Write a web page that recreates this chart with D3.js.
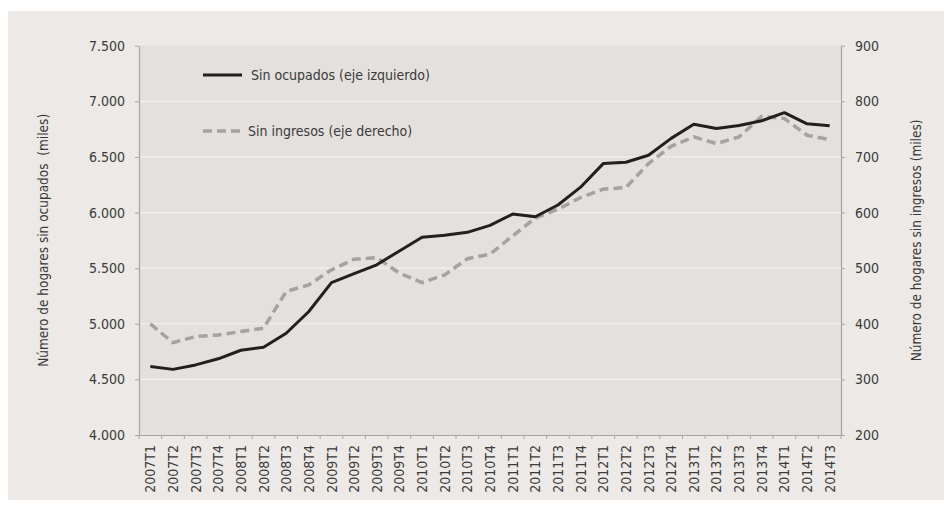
<!DOCTYPE html>
<html>
<head>
<meta charset="utf-8">
<script src="https://cdn.jsdelivr.net/npm/d3@7"></script>
<style>
  body { margin: 0; background: #fff; }
  svg text { font-family: "Liberation Sans Narrow", "DejaVu Sans Condensed", sans-serif; fill: #3a3a3a; }
</style>
</head>
<body>
<div id="vis"></div>
<script>
const FRAME_WIDTH = 944;
const FRAME_HEIGHT = 510;
const PLOT = {left: 139, right: 841, top: 45.7, bottom: 435};

// quarters (x categories)
const quarters = ["2007T1","2007T2","2007T3","2007T4","2008T1","2008T2","2008T3","2008T4",
  "2009T1","2009T2","2009T3","2009T4","2010T1","2010T2","2010T3","2010T4",
  "2011T1","2011T2","2011T3","2011T4","2012T1","2012T2","2012T3","2012T4",
  "2013T1","2013T2","2013T3","2013T4","2014T1","2014T2","2014T3"];

// hogares sin ocupados (miles) - left axis
const sinOcupados = [4615,4590,4630,4685,4762,4788,4915,5110,
  5370,5450,5530,5655,5778,5795,5822,5885,
  5986,5962,6068,6228,6440,6452,6515,6667,
  6793,6755,6783,6825,6898,6798,6780];

// hogares sin ingresos (miles) - right axis
const sinIngresos = [400,366,377,380,386,392,458,470,
  497,516,519,491,474,488,517,525,
  558,590,606,627,642,645,688,719,
  736,724,736,773,769,739,731];

const leftTicks = [4000,4500,5000,5500,6000,6500,7000,7500];
const rightTicks = [200,300,400,500,600,700,800,900];

const locale = d3.formatLocale({decimal: ",", thousands: ".", grouping: [3], currency: ["", ""]});
const fmt = locale.format(",");

const svg = d3.select("#vis")
  .append("svg")
    .attr("width", FRAME_WIDTH)
    .attr("height", FRAME_HEIGHT);

// outer panel
svg.append("rect")
  .attr("x", 8).attr("y", 11)
  .attr("width", FRAME_WIDTH - 8).attr("height", 489)
  .attr("fill", "#ede9e6");

// plot area
svg.append("rect")
  .attr("x", PLOT.left).attr("y", PLOT.top)
  .attr("width", PLOT.right - PLOT.left).attr("height", PLOT.bottom - PLOT.top)
  .attr("fill", "#e4e0dd");

const x = d3.scaleBand().domain(quarters).range([PLOT.left, PLOT.right]).padding(0);
const yL = d3.scaleLinear().domain([4000, 7500]).range([PLOT.bottom, PLOT.top]);
const yR = d3.scaleLinear().domain([200, 900]).range([PLOT.bottom, PLOT.top]);
const cx = d => x(d) + x.bandwidth() / 2;

// gridlines
svg.append("g").selectAll("line")
  .data(leftTicks.filter(t => t > 4000 && t < 7500))
  .join("line")
    .attr("x1", PLOT.left).attr("x2", PLOT.right)
    .attr("y1", d => yL(d)).attr("y2", d => yL(d))
    .attr("stroke", "#f4f1ee").attr("stroke-width", 1.2);

function styleAxis(g) {
  g.selectAll("path.domain").attr("stroke", "#a5a5a5").attr("stroke-width", 1.2);
  g.selectAll(".tick line").attr("stroke", "#a5a5a5");
  g.selectAll("text").attr("font-size", 14).attr("fill", "#3a3a3a");
}

// left axis
svg.append("g")
  .attr("transform", `translate(${PLOT.left},0)`)
  .call(d3.axisLeft(yL).tickValues(leftTicks).tickFormat(fmt).tickSize(4).tickPadding(10).tickSizeOuter(0))
  .call(styleAxis);

// right axis
svg.append("g")
  .attr("transform", `translate(${PLOT.right},0)`)
  .call(d3.axisRight(yR).tickValues(rightTicks).tickSize(4).tickPadding(10).tickSizeOuter(0))
  .call(styleAxis);

// bottom axis: labels at band centres, ticks at band edges
const xAxis = svg.append("g")
  .attr("transform", `translate(0,${PLOT.bottom})`)
  .call(d3.axisBottom(x).tickSize(0).tickSizeOuter(0))
  .call(styleAxis);
xAxis.selectAll("text")
  .attr("transform", "rotate(-90)")
  .attr("x", -10).attr("y", 0).attr("dy", "0.36em")
  .attr("text-anchor", "end");
xAxis.selectAll(".edge")
  .data(quarters.map(q => x(q)).concat([PLOT.right]))
  .join("line")
    .attr("class", "edge")
    .attr("x1", d => d).attr("x2", d => d)
    .attr("y1", 0).attr("y2", 4)
    .attr("stroke", "#a5a5a5");

// lines
const lineL = d3.line().x((d, i) => cx(quarters[i])).y(d => yL(d));
const lineR = d3.line().x((d, i) => cx(quarters[i])).y(d => yR(d));

svg.append("path")
  .datum(sinIngresos)
  .attr("d", lineR)
  .attr("fill", "none")
  .attr("stroke", "#a3a3a3")
  .attr("stroke-width", 3.5)
  .attr("stroke-dasharray", "9,5");

svg.append("path")
  .datum(sinOcupados)
  .attr("d", lineL)
  .attr("fill", "none")
  .attr("stroke", "#231f20")
  .attr("stroke-width", 3)
  .attr("stroke-linejoin", "round");

// legend
const legend = [
  {label: "Sin ocupados (eje izquierdo)", y: 75, color: "#231f20", dash: null, tx: 251},
  {label: "Sin ingresos (eje derecho)", y: 131, color: "#a3a3a3", dash: "9,5", tx: 248}
];
legend.forEach(l => {
  svg.append("line")
    .attr("x1", 203).attr("x2", 242)
    .attr("y1", l.y).attr("y2", l.y)
    .attr("stroke", l.color)
    .attr("stroke-width", l.dash ? 3.5 : 3)
    .attr("stroke-dasharray", l.dash);
  svg.append("text")
    .attr("x", l.tx).attr("y", l.y)
    .attr("dy", "0.35em")
    .attr("font-size", 14)
    .text(l.label);
});

// axis titles
const midY = (PLOT.top + PLOT.bottom) / 2;
svg.append("text")
  .attr("transform", `translate(43,${midY}) rotate(-90)`)
  .attr("text-anchor", "middle")
  .attr("dy", "0.35em")
  .attr("font-size", 13.5)
  .style("white-space", "pre")
  .text("Número de hogares sin ocupados  (miles)");

svg.append("text")
  .attr("transform", `translate(916,${midY}) rotate(-90)`)
  .attr("text-anchor", "middle")
  .attr("dy", "0.35em")
  .attr("font-size", 13.5)
  .text("Número de hogares sin ingresos (miles)");
</script>
</body>
</html>
